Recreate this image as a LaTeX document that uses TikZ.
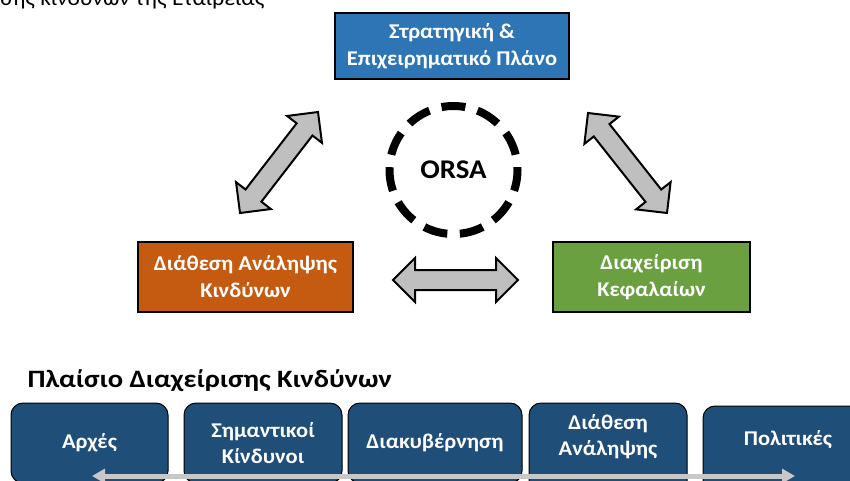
\documentclass[tikz,border=0pt]{standalone}
\usepackage{fontspec}
\setmainfont{Carlito}[FakeStretch=1.07]
\newfontfamily\titlefont{Carlito}[FakeStretch=1.14]
\usetikzlibrary{calc, arrows.meta}
\definecolor{color1}{RGB}{46,117,182}
\definecolor{color2}{RGB}{197,90,17}
\definecolor{color3}{RGB}{106,160,64}
\definecolor{color4}{RGB}{31,78,121}
\definecolor{color5}{RGB}{191,191,191}
\definecolor{color6}{RGB}{200,200,200}

% wide two-headed arrow between two named points
\newcommand{\blockarrow}[2]{%
  \filldraw[bigarrow] (#1)
    -- ($(#1)!22pt!(#2)!22pt!-90:(#2)$)
    -- ($(#1)!22pt!(#2)!10pt!-90:(#2)$)
    -- ($(#2)!22pt!(#1)!10pt!90:(#1)$)
    -- ($(#2)!22pt!(#1)!22pt!90:(#1)$)
    -- (#2)
    -- ($(#2)!22pt!(#1)!22pt!-90:(#1)$)
    -- ($(#2)!22pt!(#1)!10pt!-90:(#1)$)
    -- ($(#1)!22pt!(#2)!10pt!90:(#2)$)
    -- ($(#1)!22pt!(#2)!22pt!90:(#2)$)
    -- cycle;}

\begin{document}
\begin{tikzpicture}[x=1pt, y=-1pt, line cap=butt,
    mainbox/.style={draw=black, line width=1.5pt, fill=#1, text=white, align=center,
      font=\bfseries\fontsize{21}{27}\selectfont, inner sep=0pt},
    fwbox/.style={draw=black, line width=1pt, fill=color4, text=white, align=center,
      rounded corners=12pt, minimum height=90pt,
      font=\bfseries\fontsize{21}{26}\selectfont},
    bigarrow/.style={draw=black, line width=2pt, line join=miter, fill=color5},
    fwarrow/.style={color6, line width=5pt, {Triangle[length=13pt,width=14pt]}-{Triangle[length=13pt,width=14pt]}}]
        %\draw [step=50, very thin, lightgray] (0,0) grid (850,480);
        \useasboundingbox (0,0) rectangle (850,480);
        \clip (0,0) rectangle (850,480);

        \node [anchor=base east, font=\fontsize{22}{24}\selectfont] (head) at (268,5) {σης κινδύνων της Εταιρείας};

        \node [mainbox=color1, minimum width=234pt, minimum height=66pt] (plan) at (452,46) {Στρατηγική \&\\Επιχειρηματικό Πλάνο};
        \node [mainbox=color2, minimum width=215pt, minimum height=70pt] (appetite) at (245.5,277) {Διάθεση Ανάληψης\\Κινδύνων};
        \node [mainbox=color3, minimum width=197pt, minimum height=70pt] (capital) at (651.5,277) {Διαχείριση\\Κεφαλαίων};

        \node [circle, draw=black, line width=8pt, minimum size=128pt,
          dash pattern=on 24pt off 12.56pt, dash phase=21.1pt,
          font=\bfseries\fontsize{27}{30}\selectfont] (orsa) at (453.5,170) {ORSA};

        \coordinate (a1) at (240,213);
        \coordinate (a2) at (318,112);
        \coordinate (b1) at (588,113);
        \coordinate (b2) at (667,213);
        \coordinate (c1) at (393,280);
        \coordinate (c2) at (518,280);
        \blockarrow{a1}{a2}
        \blockarrow{b1}{b2}
        \blockarrow{c1}{c2}

        \node [anchor=base west, font=\titlefont\bfseries\fontsize{25}{28}\selectfont] (frame) at (24,387) {Πλαίσιο Διαχείρισης Κινδύνων};

        \node [fwbox, minimum width=157pt, minimum height=80pt] (principles) at (89.5,443) {Αρχές};
        \node [fwbox, minimum width=158pt, minimum height=80pt] (keyrisks) at (263,443) {Σημαντικοί\\Κίνδυνοι};
        \node [fwbox, minimum width=174pt, minimum height=80pt] (governance) at (435,443) {Διακυβέρνηση};
        \node [fwbox, minimum width=158pt] (riskapp) at (608,448) {Διάθεση\\Ανάληψης\\~};
        \node [fwbox, minimum width=170pt] (policies) at (788,451) {Πολιτικές\\~};

        \coordinate (fl) at (92,476);
        \coordinate (fr) at (795,476);
        \draw [fwarrow] (fl) -- (fr);
    \end{tikzpicture}
\end{document}
